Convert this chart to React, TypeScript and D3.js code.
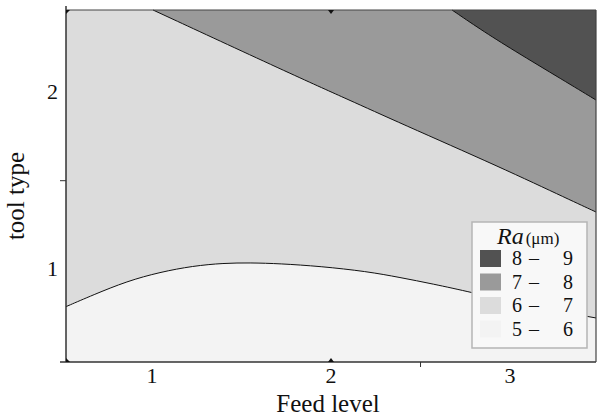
import React from "react";
import * as d3 from "d3";

// Contour boundary lines: [feed level, tool type]
const boundary67: [number, number][] = [
  [0.52, 0.788], [0.671, 0.854], [0.861, 0.932], [1.045, 0.983], [1.229, 1.018],
  [1.4, 1.034], [1.55, 1.036], [1.715, 1.031], [1.939, 1.016], [2.201, 0.987],
  [2.385, 0.953], [2.57, 0.916], [2.776, 0.871], [3.11, 0.79], [3.48, 0.724],
];
const boundary78: [number, number][] = [
  [1.006, 2.465], [1.827, 2.08], [2.089, 1.962], [2.385, 1.826], [2.944, 1.577],
  [3.335, 1.391], [3.48, 1.323],
];
const boundary89: [number, number][] = [
  [2.676, 2.465], [2.832, 2.357], [3.016, 2.239], [3.296, 2.069], [3.48, 1.956],
];

const xTicks = [1, 2, 3];
const yTicks = [1, 2];
const yMinorTicks = [1.5];
const xMinorTicks = [2.5];
const legendLabels = [
  { lo: "8", hi: "9", color: "#525252" },
  { lo: "7", hi: "8", color: "#9a9a9a" },
  { lo: "6", hi: "7", color: "#dcdcdc" },
  { lo: "5", hi: "6", color: "#f3f3f3" },
];
const regionColors = ["#f3f3f3", "#dcdcdc", "#9a9a9a", "#525252"];

const W = 598, H = 419;
const L = 66, R = 596, T = 10, B = 362;
const X0 = 0.52, X1 = 3.48, Y0 = 0.475, Y1 = 2.465;

export default function App() {
  const x = d3.scaleLinear().domain([X0, X1]).range([L, R]);
  const y = d3.scaleLinear().domain([Y0, Y1]).range([B, T]);
  const line = d3.line<[number, number]>().x((d) => x(d[0])).y((d) => y(d[1])).curve(d3.curveBasis);

  const curveThenClose = (pts: [number, number][], closing: [number, number][]) => {
    const c = line(pts) as string;
    const rest = closing.map((p) => `L${x(p[0])},${y(p[1])}`).join("");
    return c + rest + "Z";
  };

  const font = "'Liberation Serif', 'Times New Roman', serif";
  const tri = (cx: number, cy: number, dir: number) =>
    `M${cx - 3},${cy}L${cx + 3},${cy}L${cx},${cy + dir * 4}Z`;

  return (
    <svg width={W} height={H} style={{ position: "absolute", left: 0, top: 0, background: "#fff" }}>
      <rect x={L} y={T} width={R - L} height={B - T} fill={regionColors[0]} />
      <path d={curveThenClose(boundary67, [[X1, Y1], [X0, Y1]])} fill={regionColors[1]} />
      <path d={curveThenClose(boundary78, [[X1, Y1]])} fill={regionColors[2]} />
      <path d={curveThenClose(boundary89, [[X1, Y1]])} fill={regionColors[3]} />
      {[boundary67, boundary78, boundary89].map((b, i) => (
        <path key={i} d={line(b) as string} fill="none" stroke="#111" strokeWidth={1} />
      ))}

      {/* frame */}
      <line x1={L} x2={L} y1={T - 4} y2={B} stroke="#333" strokeWidth={1.5} />
      <line x1={L - 6} x2={R} y1={B} y2={B} stroke="#333" strokeWidth={1.5} />
      <line x1={L} x2={R} y1={T} y2={T} stroke="#444" strokeWidth={1.2} />
      <line x1={R} x2={R} y1={T} y2={B} stroke="#444" strokeWidth={1.2} />

      {/* small markers */}
      <path d={tri(x(2), T, 1)} fill="#111" />
      <path d={tri(x(2), B, -1)} fill="#111" />
      <path d={`M${L},${T}L${L + 4},${T}L${L},${T + 4}Z`} fill="#111" />
      <path d={`M${L},${B}L${L + 4},${B}L${L},${B - 4}Z`} fill="#111" />

      {yMinorTicks.map((t) => (
        <line key={t} x1={L - 6} x2={L} y1={y(t)} y2={y(t)} stroke="#333" strokeWidth={1} />
      ))}
      {xMinorTicks.map((t) => (
        <line key={t} x1={x(t)} x2={x(t)} y1={B} y2={B + 5} stroke="#333" strokeWidth={1} />
      ))}

      {xTicks.map((t) => (
        <text key={t} x={x(t)} y={B + 21} textAnchor="middle" fontFamily={font} fontSize={22} fill="#111">
          {t}
        </text>
      ))}
      {yTicks.map((t) => (
        <text key={t} x={L - 8} y={y(t) + 7} textAnchor="end" fontFamily={font} fontSize={22} fill="#111">
          {t}
        </text>
      ))}

      <text x={328} y={412} textAnchor="middle" fontFamily={font} fontSize={25} fill="#111">
        Feed level
      </text>
      <text
        transform={`translate(24,196) rotate(-90)`}
        textAnchor="middle"
        fontFamily={font}
        fontSize={25}
        fill="#111"
      >
        tool type
      </text>

      {/* legend */}
      <rect x={472} y={222} width={115} height={126} fill="#f8f8f8" stroke="#b5b5b5" strokeWidth={1.5} />
      <text x={497} y={244} fontFamily={font} fill="#111">
        <tspan fontStyle="italic" fontSize={24}>Ra</tspan>
        <tspan fontSize={17} dx={2}>(μm)</tspan>
      </text>
      {legendLabels.map((l, i) => {
        const ry = 250 + i * 23.5;
        return (
          <g key={i}>
            <rect x={480} y={ry} width={21} height={17} fill={l.color} />
            <text x={512} y={ry + 15} fontFamily={font} fontSize={20} fill="#111">{l.lo}</text>
            <text x={534} y={ry + 15} textAnchor="middle" fontFamily={font} fontSize={20} fill="#111">–</text>
            <text x={563} y={ry + 15} fontFamily={font} fontSize={20} fill="#111">{l.hi}</text>
          </g>
        );
      })}
    </svg>
  );
}
